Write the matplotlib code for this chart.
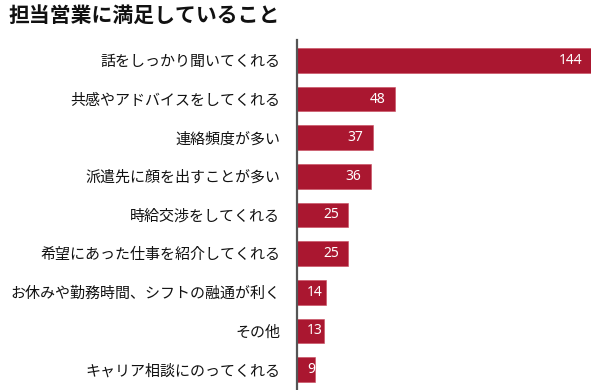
import matplotlib
matplotlib.use("Agg")
import matplotlib.pyplot as plt

plt.rcParams['font.family'] = ['Noto Sans CJK JP', 'DejaVu Sans']

title = "担当営業に満足していること"
categories = [
    "話をしっかり聞いてくれる",
    "共感やアドバイスをしてくれる",
    "連絡頻度が多い",
    "派遣先に顔を出すことが多い",
    "時給交渉をしてくれる",
    "希望にあった仕事を紹介してくれる",
    "お休みや勤務時間、シフトの融通が利く",
    "その他",
    "キャリア相談にのってくれる",
]
values = [144, 48, 37, 36, 25, 25, 14, 13, 9]

bar_color = "#aa1730"

fig = plt.figure(figsize=(6, 3.9), dpi=100)
ax = fig.add_axes([297/600, 0, 294/600, 1 - 40/390])

pos = list(range(len(categories)))
ax.barh(pos, values, height=0.64, color=bar_color, edgecolor="#c84a5c", linewidth=0.4)
ax.set_xlim(0, 144)
ax.set_ylim(8.53, -0.53)
ax.set_yticks(pos)
ax.set_yticklabels(categories, fontsize=10.8, color="#111111")
ax.tick_params(axis='y', length=0, pad=12)
ax.set_xticks([])
for s in ['top', 'right', 'bottom']:
    ax.spines[s].set_visible(False)
ax.spines['left'].set_color('#555555')
ax.spines['left'].set_linewidth(1.6)

for p, v in zip(pos, values):
    if v >= 20:
        ax.annotate(str(v), xy=(v, p), xytext=(-9, 0), textcoords='offset pixels',
                    ha='right', va='center', color='white', fontsize=10, family='Noto Sans')
    else:
        ax.annotate(str(v), xy=(0, p), xytext=(10, 0), textcoords='offset pixels',
                    ha='left', va='center', color='white', fontsize=10, family='Noto Sans')

fig.text(8/600, 1 - 15/390, title, fontsize=15, fontweight='bold',
         ha='left', va='center', color='#111111')

fig.savefig("out.png", dpi=100)
